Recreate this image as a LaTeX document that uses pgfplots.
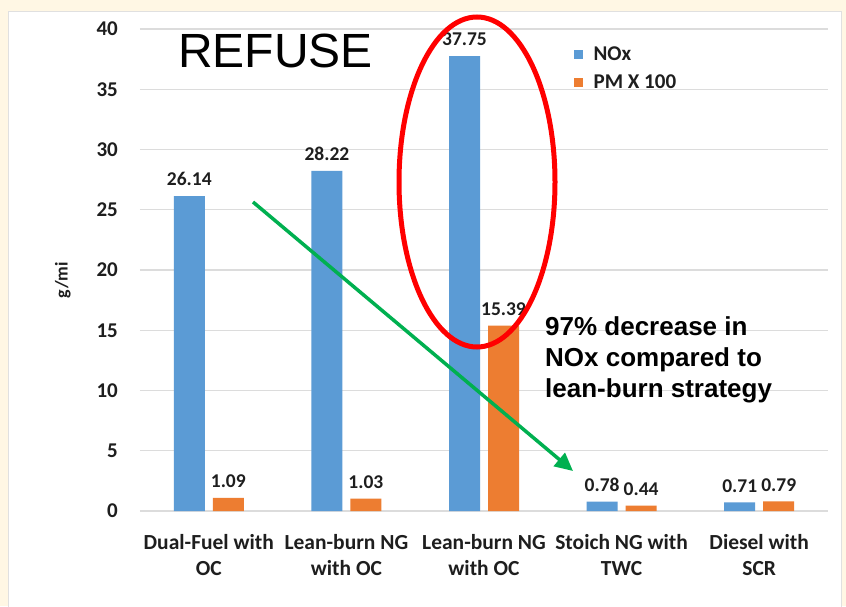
\documentclass[border=0pt]{standalone}
\usepackage{fontspec}
\setmainfont{Carlito}
\newfontfamily\arialf{Liberation Sans}
\usepackage{pgfplots}
\pgfplotsset{compat=1.18}
\usetikzlibrary{arrows.meta}
\definecolor{nox}{HTML}{5B9BD5}
\definecolor{pm}{HTML}{ED7D31}
\definecolor{txt}{HTML}{1E1E1E}
\definecolor{gridc}{HTML}{DCDCDC}
\definecolor{cream}{HTML}{FFF7E4}
\definecolor{arrowgreen}{HTML}{00B050}
\begin{document}
\begin{tikzpicture}[x=1pt,y=1pt]
\fill[cream] (0,0) rectangle (846,606);
\useasboundingbox (0,0) rectangle (846,606);
\filldraw[fill=white, draw=black!12, line width=1pt] (8,-5) rectangle (841,594);
\begin{axis}[
  at={(140pt,95pt)}, anchor=south west,
  scale only axis, width=688pt, height=482pt,
  xmin=-0.5, xmax=4.5, ymin=0, ymax=40,
  ybar, bar width=31pt,
  legend image code/.code={\fill[#1] (0pt,-4.5pt) rectangle (9pt,4.5pt);},
  axis line style={draw=none},
  ymajorgrids, grid style={gridc, line width=1.2pt},
  major tick length=0pt,
  /pgf/number format/assume math mode=true,
  ytick={0,5,...,40},
  xtick={0,1,2,3,4},
  xticklabels={{Dual-Fuel with\\OC},{Lean-burn NG\\with OC},{Lean-burn NG\\with OC},{Stoich NG with\\TWC},{Diesel with\\SCR}},
  xticklabel style={align=center, font=\fontsize{21.5}{26}\selectfont\bfseries, text=txt, inner sep=0pt, yshift=-23pt},
  yticklabel style={font=\fontsize{21}{25}\selectfont\bfseries, text=txt, inner sep=0pt, xshift=-22pt},
  ylabel={g/mi},
  ylabel style={at={(axis description cs:-0.112,0.479)}, anchor=center, font=\fontsize{18}{21}\selectfont\bfseries, text=txt},
  nodes near coords, point meta=explicit symbolic,
  nodes near coords style={font=\fontsize{19.5}{22}\selectfont\bfseries, text=txt, inner sep=0pt, yshift=10pt},
  legend style={at={(0.63,0.9637)}, anchor=north west, draw=none, fill=none, inner sep=0pt, row sep=13pt, column sep=11pt, font=\fontsize{21}{25}\selectfont\bfseries, nodes={inner sep=0pt, text=txt}},
  legend cell align=left,
]
\addplot[fill=nox, draw=none, bar shift=-19.5pt] coordinates {(0,26.14) [26.14] (1,28.22) [28.22] (2,37.75) [37.75] (3,0.78) [0.78] (4,0.71) [0.71]};
\addplot[fill=pm, draw=none, bar shift=19.5pt] coordinates {(0,1.09) [1.09] (1,1.03) [1.03] (2,15.39) [15.39] (3,0.44) [0.44] (4,0.79) [0.79]};
\legend{NOx, PM X 100}
\end{axis}
\node[anchor=base west, inner sep=0pt, font=\arialf\fontsize{48}{48}\selectfont] at (178,538) {REFUSE};
\draw[red, line width=5pt] (477,424) ellipse [x radius=78pt, y radius=165pt];
\draw[arrowgreen, line width=3.5pt, -{Triangle[length=18pt,width=17pt]}] (253,404) -- (573,135);
\node[anchor=base west, inner sep=0pt, font=\arialf\bfseries\fontsize{26}{31}\selectfont] at (545,271) {97\% decrease in};
\node[anchor=base west, inner sep=0pt, font=\arialf\bfseries\fontsize{26}{31}\selectfont] at (545,240) {NOx compared to};
\node[anchor=base west, inner sep=0pt, font=\arialf\bfseries\fontsize{26}{31}\selectfont] at (545,209) {lean-burn strategy};
\end{tikzpicture}
\end{document}
